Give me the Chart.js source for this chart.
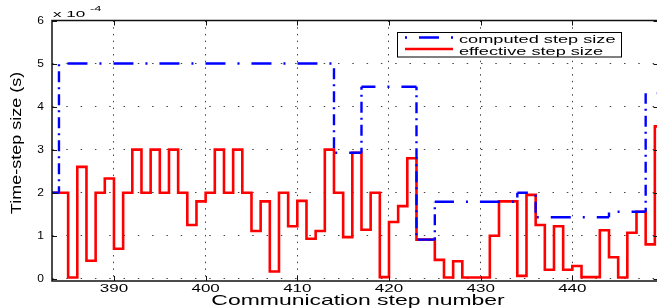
<!DOCTYPE html>
<html>
<head>
<meta charset="utf-8">
<script src="https://cdn.jsdelivr.net/npm/chart.js@4.4.1/dist/chart.umd.min.js"></script>
<style>
  html, body { margin: 0; padding: 0; background: #fff; overflow: hidden; }
</style>
</head>
<body>
<canvas id="chart" width="660" height="308"></canvas>
<script>
// communication steps (x), step sizes in units of 1e-4 s
const steps = [383, 384, 385, 386, 387, 388, 389, 390, 391, 392,
               393, 394, 395, 396, 397, 398, 399, 400, 401, 402,
               403, 404, 405, 406, 407, 408, 409, 410, 411, 412,
               413, 414, 415, 416, 417, 418, 419, 420, 421, 422,
               423, 424, 425, 426, 427, 428, 429, 430, 431, 432,
               433, 434, 435, 436, 437, 438, 439, 440, 441, 442,
               443, 444, 445, 446, 447, 448, 449];

const computed = [2.0, 5.0, 5.0, 5.0, 5.0, 5.0, 5.0, 5.0, 5.0, 5.0,
                  5.0, 5.0, 5.0, 5.0, 5.0, 5.0, 5.0, 5.0, 5.0, 5.0,
                  5.0, 5.0, 5.0, 5.0, 5.0, 5.0, 5.0, 5.0, 5.0, 5.0,
                  5.0, 2.93, 2.93, 2.93, 4.46, 4.46, 4.46, 4.46, 4.46, 4.46,
                  0.91, 0.91, 1.79, 1.79, 1.79, 1.79, 1.79, 1.79, 1.79, 1.79,
                  1.79, 2.0, 2.0, 1.43, 1.43, 1.43, 1.43, 1.43, 1.43, 1.43,
                  1.43, 1.56, 1.56, 1.56, 1.56, 4.31, 4.31];

const effective = [2.0, 2.0, 0.03, 2.6, 0.42, 2.0, 2.33, 0.7, 2.0, 3.0,
                   2.0, 3.0, 2.0, 3.0, 2.0, 1.25, 1.8, 2.0, 3.0, 2.0,
                   3.0, 2.0, 1.11, 1.8, 0.17, 2.0, 1.22, 1.81, 0.93, 1.11,
                   3.0, 2.0, 0.97, 2.93, 1.14, 2.0, 0.04, 1.32, 1.69, 2.8,
                   0.91, 0.91, 0.44, 0.03, 0.41, 0.03, 0.03, 0.03, 1.0, 1.8,
                   1.8, 0.07, 1.95, 1.25, 0.21, 1.22, 0.21, 0.3, 0.04, 0.04,
                   1.13, 0.5, 0.03, 1.07, 1.56, 0.8, 3.54];

const xTicks = [390, 400, 410, 420, 430, 440];
const yTicks = [0, 1, 2, 3, 4, 5, 6];
const seriesNames = ['computed step size', 'effective step size'];

const FONT = '"Liberation Sans", Arial, Helvetica, sans-serif';
// dash-dot comes out about twice as long on horizontals as on verticals
const DASH_H = [20, 12, 2, 12];
const DASH_V = [11, 5, 2, 5];
const PER_H = 46, PER_V = 23;

// stair corners, so vertical and horizontal parts can be styled apart
function corners(xs, ys) {
  const pts = [];
  for (let i = 0; i < xs.length; i++) {
    if (i > 0 && ys[i] !== ys[i - 1]) pts.push({ x: xs[i], y: ys[i - 1] });
    if (i === 0 || ys[i] !== ys[i - 1]) pts.push({ x: xs[i], y: ys[i] });
  }
  pts.push({ x: xs[xs.length - 1] + 1, y: ys[ys.length - 1] });
  return pts;
}

function isVertical(c) {
  return c.p0.parsed.x === c.p1.parsed.x;
}

// keep the dash pattern running on across corners
function dashOffset(c) {
  const pts = c.chart.getDatasetMeta(c.datasetIndex).data;
  let phase = 0;
  for (let i = 0; i < c.p0DataIndex; i++) {
    const a = pts[i], b = pts[i + 1];
    const len = Math.hypot(b.x - a.x, b.y - a.y);
    phase += len / (Math.abs(a.x - b.x) < 0.01 ? PER_V : PER_H);
  }
  phase -= Math.floor(phase);
  return phase * (isVertical(c) ? PER_V : PER_H);
}

// matlab fonts in the picture come out wider than normal
function text(ctx, str, x, y, o) {
  ctx.save();
  ctx.font = o.font;
  ctx.fillStyle = '#000';
  ctx.textAlign = o.align || 'left';
  ctx.textBaseline = o.baseline || 'alphabetic';
  ctx.translate(x, y);
  if (o.rotate) {
    ctx.rotate(o.rotate);
    ctx.scale(1, o.sx || 1);
  } else {
    ctx.scale(o.sx || 1, 1);
  }
  ctx.fillText(str, 0, 0);
  ctx.restore();
}

const decorations = {
  id: 'decorations',
  afterDraw(chart) {
    const { ctx, chartArea: a, scales: { x, y } } = chart;
    const tick = 5;

    // box + inward ticks
    ctx.save();
    ctx.strokeStyle = '#111';
    ctx.lineWidth = 1.5;
    ctx.strokeRect(a.left, a.top, a.right - a.left, a.bottom - a.top);
    ctx.lineWidth = 1;
    ctx.beginPath();
    for (const t of x.ticks) {
      const px = Math.round(x.getPixelForValue(t.value)) + 0.5;
      ctx.moveTo(px, a.bottom); ctx.lineTo(px, a.bottom - tick);
      ctx.moveTo(px, a.top); ctx.lineTo(px, a.top + tick);
    }
    for (const t of y.ticks) {
      const py = Math.round(y.getPixelForValue(t.value)) + 0.5;
      ctx.moveTo(a.left, py); ctx.lineTo(a.left + tick, py);
      ctx.moveTo(a.right, py); ctx.lineTo(a.right - tick, py);
    }
    ctx.stroke();
    ctx.restore();

    // tick labels
    for (const t of x.ticks) {
      text(ctx, String(t.value), x.getPixelForValue(t.value), 291.5,
           { font: '10px ' + FONT, sx: 1.7, align: 'center' });
    }
    for (const t of y.ticks) {
      text(ctx, String(t.value), 44, y.getPixelForValue(t.value) + 0.5,
           { font: '10px ' + FONT, sx: 1.2, align: 'right', baseline: 'middle' });
    }

    // exponent
    text(ctx, 'x 10', 53, 16.5, { font: '9.5px ' + FONT, sx: 1.8 });
    text(ctx, '-4', 90, 10.5, { font: '8px ' + FONT, sx: 1.6 });

    // axis titles
    text(ctx, 'Communication step number', 358, 305,
         { font: '15px ' + FONT, sx: 1.53, align: 'center' });
    text(ctx, 'Time-step size (s)', 21, 143,
         { font: '18px ' + FONT, sx: 0.85, align: 'center', rotate: -Math.PI / 2 });

    // legend
    const lx = 397.5, ly = 32.5, lw = 224, lh = 24.5;
    ctx.save();
    ctx.fillStyle = '#fff';
    ctx.fillRect(lx, ly, lw, lh);
    ctx.strokeStyle = '#000';
    ctx.lineWidth = 1;
    ctx.strokeRect(lx, ly, lw, lh);
    ctx.lineCap = 'butt';
    ctx.lineWidth = 2.4;
    ctx.strokeStyle = '#0000ff';
    ctx.setLineDash(DASH_H);
    ctx.lineDashOffset = 32;
    ctx.beginPath(); ctx.moveTo(405, 37.5); ctx.lineTo(453, 37.5); ctx.stroke();
    ctx.setLineDash([]);
    ctx.lineWidth = 2.6;
    ctx.strokeStyle = '#ff0000';
    ctx.beginPath(); ctx.moveTo(405, 49); ctx.lineTo(453, 49); ctx.stroke();
    ctx.restore();
    text(ctx, seriesNames[0], 459, 42.5, { font: '11.5px ' + FONT, sx: 1.58 });
    text(ctx, seriesNames[1], 459, 54.5, { font: '11.5px ' + FONT, sx: 1.58 });
  }
};

new Chart(document.getElementById('chart'), {
  type: 'line',
  data: {
    datasets: [{
      label: seriesNames[0],
      data: corners(steps, computed),
      borderColor: '#0000ff',
      borderWidth: 2.4,
      borderDash: DASH_H,
      segment: {
        borderDash: c => (isVertical(c) ? DASH_V : DASH_H),
        borderDashOffset: dashOffset
      },
      pointRadius: 0,
      tension: 0
    }, {
      label: seriesNames[1],
      data: corners(steps, effective),
      borderColor: '#ff0000',
      borderWidth: 2.6,
      borderJoinStyle: 'miter',
      pointRadius: 0,
      tension: 0
    }]
  },
  options: {
    responsive: false,
    animation: false,
    devicePixelRatio: 1,
    layout: { padding: { left: 0, right: 1.5, top: 20.5, bottom: 0 } },
    plugins: { legend: { display: false }, tooltip: { enabled: false } },
    scales: {
      x: {
        type: 'linear',
        min: 383.24,
        max: 449.4,
        afterBuildTicks: s => { s.ticks = xTicks.map(v => ({ value: v })); },
        afterFit: s => { s.height = 27; },
        ticks: { display: false },
        grid: { color: '#444', lineWidth: 1, drawTicks: false },
        border: { display: false, dash: [1.5, 5.2] }
      },
      y: {
        type: 'linear',
        min: -0.05,
        max: 6,
        afterBuildTicks: s => { s.ticks = yTicks.map(v => ({ value: v })); },
        afterFit: s => { s.width = 52; },
        ticks: { display: false },
        grid: { color: '#444', lineWidth: 1, drawTicks: false },
        border: { display: false, dash: [1.5, 12.8] }
      }
    }
  },
  plugins: [decorations]
});
</script>
</body>
</html>
